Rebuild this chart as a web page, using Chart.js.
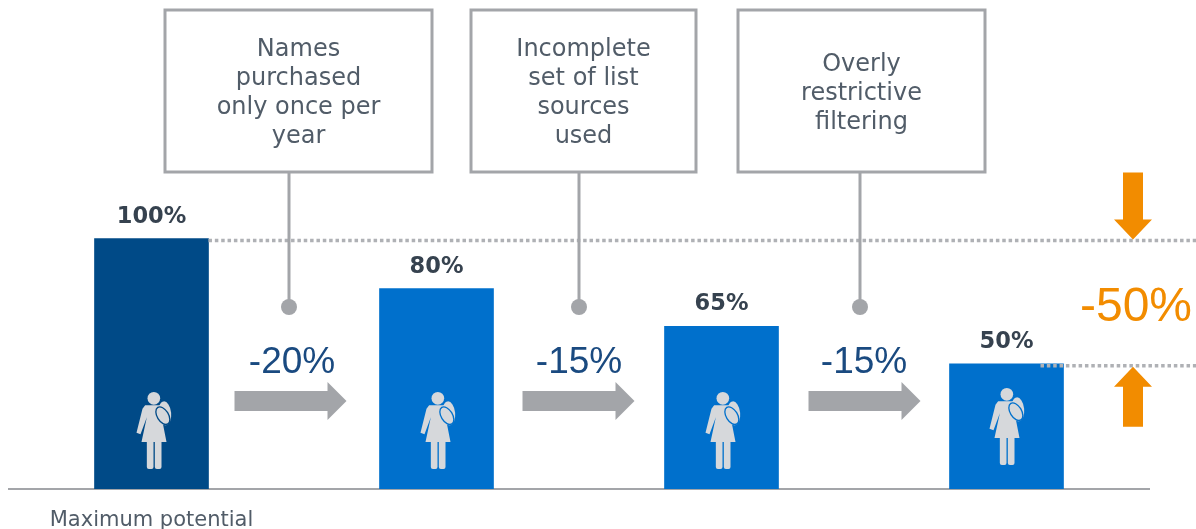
<!DOCTYPE html>
<html>
<head>
<meta charset="utf-8">
<title>List potential</title>
<script src="https://cdn.jsdelivr.net/npm/chart.js@4"></script>
<style>
    html, body { margin: 0; padding: 0; background: #fff; overflow: hidden; }
    canvas { display: block; }
</style>
</head>
<body>
<canvas id="chart" width="1196" height="529"></canvas>
<script>
const categories = ["Maximum potential", "", "", ""];
const values = [100, 80, 65, 50];
const valueLabels = ["100%", "80%", "65%", "50%"];
const dropLabels = ["-20%", "-15%", "-15%"];
const totalLabel = "-50%";
const calloutLines = [
    ["Names", "purchased", "only once per", "year"],
    ["Incomplete", "set of list", "sources", "used"],
    ["Overly", "restrictive", "filtering"]
];

const grey = "#a3a5a9";
const orange = "#f28c00";
const barColors = ["#004a87", "#0070cc", "#0070cc", "#0070cc"];
const textFont = '"DejaVu Sans", sans-serif';
const deltaFont = '"Liberation Sans", Arial, sans-serif';

// callout boxes: left, right, connector x
const boxes = [[165, 432, 289], [471, 696, 579], [738, 985, 860]];
const boxTop = 10, boxBottom = 172;
const iconShift = [-1, -2, -2, -3];
const arrowShift = [-1, 2, 3];
const labelShift = [-2, 0, 0];

function blockArrow(ctx, x, y, dir, len, shaft, head, headLen) {
    // x,y is the tip, dir is the pointing direction as [dx,dy]
    ctx.save();
    ctx.translate(x, y);
    ctx.rotate(Math.atan2(dir[1], dir[0]));
    ctx.beginPath();
    ctx.moveTo(0, 0);
    ctx.lineTo(-headLen, -head / 2);
    ctx.lineTo(-headLen, -shaft / 2);
    ctx.lineTo(-len, -shaft / 2);
    ctx.lineTo(-len, shaft / 2);
    ctx.lineTo(-headLen, shaft / 2);
    ctx.lineTo(-headLen, head / 2);
    ctx.closePath();
    ctx.fill();
    ctx.restore();
}

function person(ctx, cx, base, color) {
    // path is sketched at 3x, then scaled down
    ctx.save();
    ctx.translate(cx - 71, base - 119);
    ctx.scale(1 / 3, 1 / 3);
    ctx.fillStyle = "#d6d8db";
    ctx.beginPath();
    ctx.arc(223, 85, 19, 0, Math.PI * 2);
    ctx.fill();
    ctx.beginPath();
    ctx.moveTo(197, 106);
    ctx.lineTo(243, 106);
    ctx.lineTo(248, 150);
    ctx.lineTo(261, 216);
    ctx.lineTo(186, 216);
    ctx.lineTo(202, 142);
    ctx.lineTo(183, 193);
    ctx.lineTo(171, 188);
    ctx.lineTo(189, 116);
    ctx.closePath();
    ctx.fill();
    ctx.beginPath();
    ctx.roundRect(202, 210, 20, 87, 6);
    ctx.roundRect(226, 210, 20, 87, 6);
    ctx.fill();
    // backpack
    ctx.beginPath();
    ctx.ellipse(256, 130, 19, 36, -0.1, 0, Math.PI * 2);
    ctx.fill();
    ctx.strokeStyle = color;
    ctx.lineWidth = 4;
    ctx.beginPath();
    ctx.ellipse(250, 137, 17, 29, -0.55, 0, Math.PI * 2);
    ctx.stroke();
    ctx.restore();
}

const overlayPlugin = {
    id: "overlay",
    afterDatasetsDraw(chart) {
        const ctx = chart.ctx;
        const x = chart.scales.x;
        const y = chart.scales.y;
        const base = y.getPixelForValue(0);
        ctx.save();
        ctx.textAlign = "center";
        ctx.textBaseline = "alphabetic";

        // dotted level lines
        ctx.strokeStyle = "#afb1b5";
        ctx.lineWidth = 3.5;
        ctx.setLineDash([3.5, 2.85]);
        ctx.beginPath();
        ctx.moveTo(x.getPixelForValue(0) + 57, y.getPixelForValue(values[0]) + 2);
        ctx.lineTo(1196, y.getPixelForValue(values[0]) + 2);
        ctx.moveTo(x.getPixelForValue(3) + 34, y.getPixelForValue(values[3]) + 2);
        ctx.lineTo(1196, y.getPixelForValue(values[3]) + 2);
        ctx.stroke();
        ctx.setLineDash([]);

        // callouts with connectors
        boxes.forEach((b, i) => {
            ctx.strokeStyle = grey;
            ctx.lineWidth = 3;
            ctx.fillStyle = "#fff";
            ctx.fillRect(b[0], boxTop, b[1] - b[0], boxBottom - boxTop);
            ctx.strokeRect(b[0], boxTop, b[1] - b[0], boxBottom - boxTop);
            ctx.beginPath();
            ctx.moveTo(b[2], boxBottom);
            ctx.lineTo(b[2], 307);
            ctx.stroke();
            ctx.fillStyle = grey;
            ctx.beginPath();
            ctx.arc(b[2], 307, 8, 0, Math.PI * 2);
            ctx.fill();

            const lines = calloutLines[i];
            const top = (boxTop + boxBottom) / 2 - lines.length * 14.5 + 23;
            ctx.fillStyle = "#515c68";
            ctx.font = "24px " + textFont;
            lines.forEach((t, j) => ctx.fillText(t, (b[0] + b[1]) / 2, top + j * 29));
        });

        // bar labels and people
        values.forEach((v, i) => {
            const cx = x.getPixelForValue(i);
            ctx.fillStyle = "#36424f";
            ctx.font = "bold 22.5px " + textFont;
            ctx.fillText(valueLabels[i], cx, y.getPixelForValue(v) - 16);
            person(ctx, cx + iconShift[i], base + (i === 3 ? -4 : 0), barColors[i]);
        });

        // step arrows
        dropLabels.forEach((t, i) => {
            const mid = (x.getPixelForValue(i) + x.getPixelForValue(i + 1)) / 2;
            ctx.fillStyle = grey;
            blockArrow(ctx, mid + 53.5 + arrowShift[i], 401, [1, 0], 112, 20, 38, 19);
            ctx.fillStyle = "#1a4a80";
            ctx.font = "37px " + deltaFont;
            ctx.fillText(t, mid + labelShift[i], 373);
        });

        // total drop
        ctx.fillStyle = orange;
        blockArrow(ctx, 1133, y.getPixelForValue(values[0]) + 1, [0, 1], 67, 20, 38, 20);
        blockArrow(ctx, 1133, y.getPixelForValue(values[3]) + 3, [0, -1], 60, 20, 38, 20);
        ctx.font = "48px " + deltaFont;
        ctx.fillText(totalLabel, 1136, 321);
        ctx.restore();
    }
};

new Chart(document.getElementById("chart").getContext("2d"), {
    type: "bar",
    data: {
        labels: categories,
        datasets: [{
            data: values,
            backgroundColor: barColors,
            barThickness: 114
        }]
    },
    options: {
        responsive: false,
        animation: false,
        layout: { padding: { left: 9, right: 47, top: 0, bottom: 0 } },
        plugins: {
            legend: { display: false },
            tooltip: { enabled: false }
        },
        scales: {
            x: {
                grid: { display: false },
                border: { display: true, color: grey, width: 2 },
                ticks: {
                    color: "#515c68",
                    font: { family: textFont, size: 21 },
                    maxRotation: 0,
                    autoSkip: false,
                    padding: 11
                },
                afterFit(scale) { scale.height = 40; }
            },
            y: {
                display: false,
                min: 0,
                max: 195.3
            }
        }
    },
    plugins: [overlayPlugin]
});
</script>
</body>
</html>
